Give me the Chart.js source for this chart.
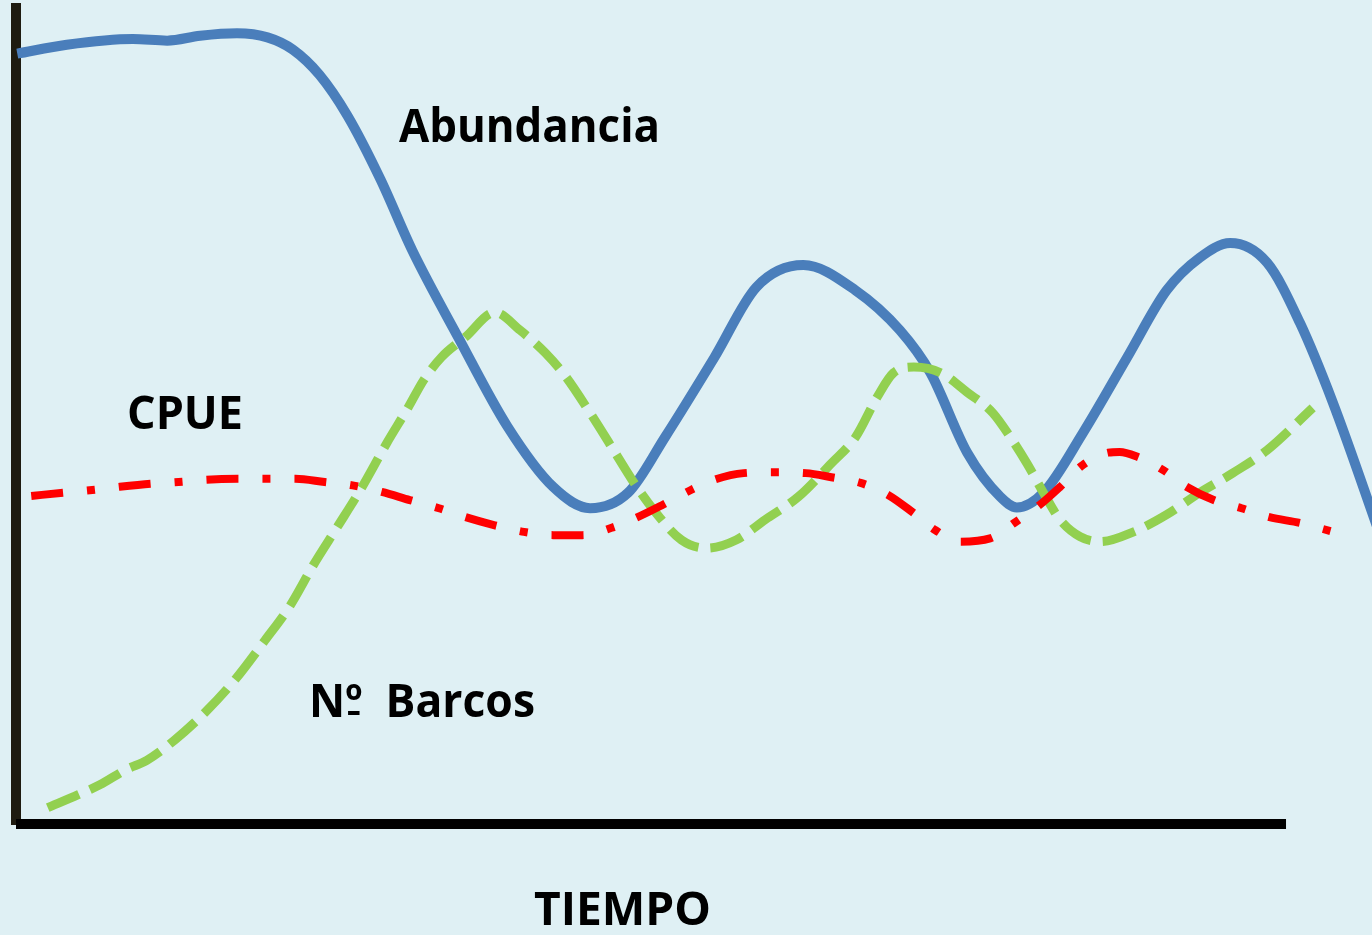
<!DOCTYPE html>
<html>
<head>
<meta charset="utf-8">
<script src="https://cdn.jsdelivr.net/npm/chart.js@4/dist/chart.umd.min.js"></script>
<style>
  html, body { margin: 0; padding: 0; background: #dff0f4; }
  #wrap { width: 1372px; height: 935px; position: relative; background: #dff0f4; }
  canvas { display: block; }
</style>
</head>
<body>
<div id="wrap"><canvas id="c" width="1372" height="935"></canvas></div>
<script>
// ---- Data (time axis: 0..100 = drawn length of the horizontal axis; values 0..100) ----
const abundanciaT = [0.1, 4.0, 9.2, 11.9, 14.5, 17.4, 19.8, 21.8, 23.9, 26.1, 28.7, 31.2, 34.8, 38.7, 42.3, 45.2, 48.2, 51.1, 55.0, 58.3, 62.0, 66.1, 69.6, 72.0, 74.9, 77.5, 78.8, 80.9, 84.0, 87.5, 90.6, 93.2, 95.6, 98.5, 101.1, 103.7, 107.5];
const abundanciaV = [94.4, 95.5, 96.2, 96.0, 96.6, 96.9, 96.4, 94.9, 91.8, 86.8, 79.0, 70.3, 59.7, 48.7, 41.3, 38.7, 40.6, 47.4, 57.2, 65.8, 68.5, 65.4, 60.5, 55.3, 45.5, 40.1, 38.8, 40.6, 47.9, 57.2, 65.4, 69.4, 71.2, 68.8, 61.4, 51.6, 35.0];

const barcosT = [2.5, 4.9, 6.6, 8.7, 10.3, 12.5, 14.9, 17.2, 19.6, 21.6, 23.4, 25.3, 27.1, 29.2, 30.9, 32.1, 33.5, 35.4, 37.7, 39.7, 41.7, 43.3, 45.2, 46.9, 48.5, 50.2, 52.4, 54.4, 56.7, 59.0, 61.6, 64.2, 66.1, 67.8, 69.1, 70.7, 72.8, 74.9, 76.9, 78.3, 79.6, 80.9, 82.2, 83.8, 85.4, 88.0, 90.6, 93.2, 95.8, 98.5, 102.1];
const barcosV = [2.0, 3.6, 4.8, 6.7, 7.8, 10.3, 13.7, 17.6, 22.5, 26.8, 31.7, 36.4, 40.9, 46.7, 51.1, 54.4, 57.2, 59.7, 62.7, 60.5, 57.7, 54.8, 50.4, 46.2, 42.2, 38.5, 34.8, 33.8, 34.8, 37.3, 40.1, 44.2, 47.4, 52.3, 55.3, 56.0, 55.3, 52.9, 50.4, 47.4, 44.2, 40.6, 37.3, 35.2, 34.6, 35.8, 37.9, 40.6, 43.0, 45.8, 51.0];

const cpueT = [1.2, 3.7, 5.8, 8.0, 10.6, 12.8, 15.0, 17.5, 19.7, 22.0, 24.3, 26.5, 28.8, 31.0, 33.3, 35.4, 37.7, 40.0, 42.3, 44.6, 46.9, 48.8, 50.9, 53.1, 55.0, 57.3, 59.6, 62.2, 64.2, 66.5, 68.7, 70.6, 72.4, 74.3, 76.7, 78.7, 80.6, 82.2, 84.0, 86.0, 86.9, 88.3, 90.3, 92.2, 94.3, 96.5, 98.7, 101.1, 103.5];
const cpueV = [40.2, 40.6, 40.9, 41.3, 41.7, 41.9, 42.2, 42.3, 42.3, 42.3, 41.9, 41.5, 40.7, 39.7, 38.7, 37.6, 36.6, 35.8, 35.4, 35.4, 36.3, 37.5, 39.1, 40.9, 42.2, 43.0, 43.1, 43.0, 42.5, 41.8, 40.3, 38.2, 36.0, 34.6, 35.0, 37.0, 39.1, 41.3, 44.0, 45.5, 45.6, 45.0, 43.4, 41.3, 39.7, 38.7, 37.6, 36.9, 35.9];

const seriesLabels = ['CPUE', 'Nº  Barcos', 'Abundancia'];
const axisTitle = 'TIEMPO';
const axisEnd = 100;   // where the drawn time axis stops

function pts(xs, ys) { return xs.map((x, i) => ({ x: x, y: ys[i] })); }

const LABEL_FONT = 'bold 46px "Open Sans", "Noto Sans", sans-serif';

// text, left x, baseline y, target width
const labelSpecs = [
  [seriesLabels[2], 399, 142, 261],
  [seriesLabels[0], 127, 429, 116],
  [seriesLabels[1], 309, 717, 226],
  [axisTitle, 534, 925, 177]
];

const axisPlugin = {
  id: 'timeAxis',
  beforeDatasetsDraw(chart) {
    const ctx = chart.ctx;
    const xs = chart.scales.x;
    const a = chart.chartArea;
    const x0 = xs.getPixelForValue(0);
    const x1 = xs.getPixelForValue(axisEnd);
    ctx.save();
    ctx.fillStyle = '#000000';
    ctx.fillRect(x0, a.bottom - 5, x1 - x0, 10);
    ctx.restore();
  },
  afterDraw(chart) {
    const ctx = chart.ctx;
    ctx.save();
    ctx.font = LABEL_FONT;
    ctx.fillStyle = '#000000';
    ctx.textBaseline = 'alphabetic';
    ctx.textAlign = 'left';
    labelSpecs.forEach(([t, x, y, w]) => {
      const m = ctx.measureText(t).width;
      const s = w / m;
      ctx.save();
      ctx.translate(x, y);
      ctx.scale(s, 1);
      ctx.fillText(t, 0, 0);
      if (t.indexOf('º') >= 0) {
        const pre = ctx.measureText(t.slice(0, t.indexOf('º'))).width;
        const ow = ctx.measureText('º').width;
        ctx.fillRect(pre + 3, -6, ow - 6, 4);
      }
      ctx.restore();
    });
    ctx.restore();
  }
};

const common = { pointRadius: 0, cubicInterpolationMode: 'monotone', fill: false, clip: false, borderCapStyle: 'butt' };

new Chart(document.getElementById('c'), {
  type: 'line',
  data: {
    datasets: [
      Object.assign({
        label: seriesLabels[0],
        data: pts(cpueT, cpueV),
        borderColor: '#ff0000',
        borderWidth: 8,
        borderDash: [32, 24, 8, 24]
      }, common),
      Object.assign({
        label: seriesLabels[1],
        data: pts(barcosT, barcosV),
        borderColor: '#92d050',
        borderWidth: 9,
        borderDash: [34, 12]
      }, common),
      Object.assign({
        label: seriesLabels[2],
        data: pts(abundanciaT, abundanciaV),
        borderColor: '#4a7ebb',
        borderWidth: 10
      }, common)
    ]
  },
  options: {
    responsive: false,
    animation: false,
    events: [],
    layout: { padding: { left: 16, top: 8, right: 0, bottom: 111 } },
    plugins: { legend: { display: false }, tooltip: { enabled: false } },
    scales: {
      x: {
        type: 'linear', min: 0, max: 106.77,
        grid: { display: false, drawTicks: false, tickLength: 0 },
        ticks: { display: false },
        border: { display: false }
      },
      y: {
        type: 'linear', min: 0, max: 100,
        grid: { display: false, drawTicks: false, tickLength: 0 },
        ticks: { display: false },
        border: { display: true, color: '#1e1b10', width: 10 }
      }
    }
  },
  plugins: [axisPlugin]
});
</script>
</body>
</html>
